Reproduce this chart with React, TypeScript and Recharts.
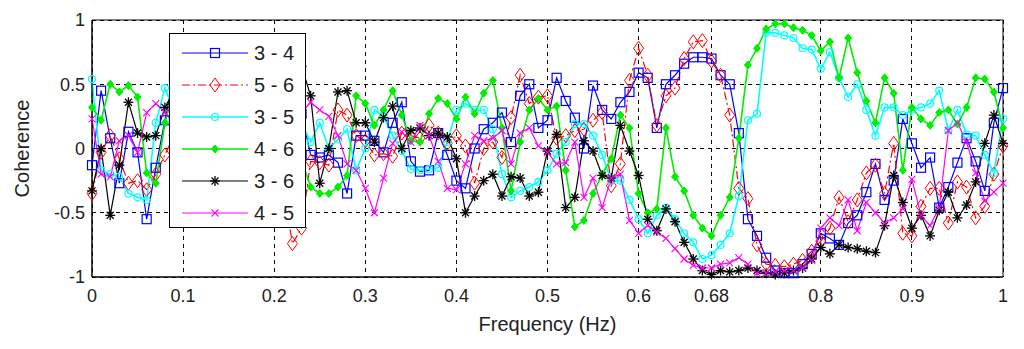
import { LineChart, Line, XAxis, YAxis, CartesianGrid, Legend, ReferenceArea } from "recharts"

const FONT = "'Liberation Sans', Arial, sans-serif"

const xTicks = [0, 0.1, 0.2, 0.3, 0.4, 0.5, 0.6, 0.68, 0.8, 0.9, 1]
const yTicks = [-1, -0.5, 0, 0.5, 1]

// coherence per frequency bin (0 .. 1 Hz, 0.01 step)
const coh34 = [
  -0.13, 0.45, 0.08, -0.27, 0.13, -0.03, -0.55, -0.15, 0.22, 0.55,
  0.3, 0.1, -0.2, 0.15, 0.35, 0.0, -0.25, 0.2, 0.4, 0.1,
  -0.1, 0.2, 0.02, 0.27, -0.05, -0.07, -0.05, -0.11, -0.35, 0.1,
  0.1, 0.06, -0.03, 0.2, 0.36, -0.1, -0.18, -0.17, 0.12, -0.05,
  -0.25, -0.31, 0.0, 0.15, 0.2, 0.28, 0.05, 0.41, 0.5, 0.16,
  0.22, 0.55, 0.37, 0.24, 0.0, 0.49, 0.3, 0.23, 0.36, 0.44,
  0.59, 0.55, 0.16, 0.5, 0.57, 0.66, 0.71, 0.71, 0.7, 0.57,
  0.5, 0.12, -0.55, -0.68, -0.85, -0.95, -0.97, -0.97, -0.9, -0.82,
  -0.66, -0.7, -0.75, -0.58, -0.52, -0.34, -0.12, -0.4, -0.25, 0.23,
  0.04, -0.15, -0.07, -0.46, -0.3, -0.11, 0.08, -0.1, -0.33, 0.2, 0.47,
]

const coh56 = [
  -0.35, -0.03, 0.1, -0.08, -0.27, -0.25, -0.32, -0.2, -0.05, 0.1,
  0.25, -0.1, 0.05, 0.3, 0.0, -0.2, 0.15, 0.3, 0.05, -0.15,
  0.1, -0.3, -0.74, -0.62, -0.1, -0.11, -0.13, 0.3, 0.26, 0.1,
  0.06, -0.05, -0.04, -0.06, 0.12, 0.1, 0.08, 0.18, 0.12, 0.04,
  0.1, 0.02, -0.27, 0.0, 0.05, -0.07, 0.24, 0.57, 0.35, 0.4,
  0.41, 0.08, 0.1, 0.14, 0.15, 0.22, 0.28, -0.29, -0.12, 0.53,
  0.78, 0.57, 0.18, 0.41, 0.47, 0.7, 0.83, 0.84, 0.68, 0.57,
  0.26, -0.31, -0.39, -0.75, -0.9, -0.91, -0.92, -0.9, -0.87, -0.8,
  -0.72, -0.62, -0.38, -0.57, -0.4, -0.19, -0.13, -0.35, 0.04, -0.66,
  -0.68, -0.45, -0.31, -0.31, -0.58, -0.26, -0.3, -0.54, -0.45, -0.2, 0.02,
]

const coh35 = [
  0.54, -0.17, -0.2, -0.22, -0.35, -0.38, -0.4, 0.2, 0.47, 0.3,
  0.1, -0.1, 0.05, 0.2, -0.15, 0.0, 0.25, 0.1, -0.2, 0.05,
  0.15, -0.1, 0.1, 0.2, 0.05, 0.2, 0.0, 0.07, 0.15, -0.17,
  0.0, 0.3, 0.25, 0.1, -0.02, -0.16, -0.17, -0.16, -0.15, 0.05,
  0.3, 0.35, 0.3, 0.3, 0.15, -0.2, -0.38, -0.33, -0.3, -0.26,
  -0.17, -0.04, 0.05, 0.19, 0.19, 0.1, -0.05, -0.25, -0.25, -0.4,
  -0.55, -0.66, -0.52, -0.46, -0.55, -0.66, -0.73, -0.86, -0.83, -0.75,
  -0.66, -0.37, 0.22, 0.27, 0.9, 0.9, 0.88, 0.86, 0.78, 0.77,
  0.62, 0.75, 0.55, 0.4, 0.5, 0.3, 0.1, 0.32, 0.32, 0.26,
  0.3, 0.32, 0.35, 0.45, 0.14, 0.3, 0.11, 0.1, -0.05, -0.19, 0.23,
]

const coh46 = [
  0.32, 0.22, 0.5, 0.44, 0.49, 0.4, -0.19, -0.27, 0.2, 0.45,
  0.3, 0.1, 0.35, 0.2, 0.0, 0.25, 0.4, 0.15, -0.05, 0.2,
  0.1, -0.1, 0.05, -0.09, -0.3, -0.35, -0.35, -0.3, -0.21, 0.41,
  0.35, 0.18, 0.3, 0.45, 0.26, 0.06, 0.05, 0.27, 0.39, 0.35,
  0.23, 0.4, 0.27, 0.43, 0.53, 0.16, -0.33, 0.05, 0.3, 0.39,
  0.3, 0.33, -0.17, -0.61, -0.56, -0.35, -0.2, -0.08, 0.26, 0.16,
  -0.35, -0.5, -0.47, 0.16, -0.22, -0.33, -0.52, -0.62, -0.68, -0.52,
  -0.38, 0.08, 0.65, 0.78, 0.93, 0.97, 0.97, 0.94, 0.92, 0.88,
  0.76, 0.83, 0.55, 0.86, 0.59, 0.37, 0.2, 0.55, 0.43, -0.17,
  0.32, 0.23, 0.18, 0.28, 0.3, 0.19, 0.32, 0.55, 0.54, 0.44, 0.16,
]

const coh36 = [
  -0.33, 0.0, -0.52, -0.13, 0.36, 0.12, 0.09, 0.1, 0.32, 0.45,
  0.2, 0.05, -0.15, 0.1, 0.3, 0.0, -0.2, 0.15, 0.25, 0.05,
  0.3, 0.5, 0.3, 0.64, 0.41, -0.27, 0.0, 0.44, 0.45, 0.2,
  0.2, 0.05, 0.24, 0.33, 0.0, 0.14, 0.16, 0.1, 0.12, 0.09,
  -0.08, -0.5, -0.37, -0.25, -0.2, -0.37, -0.22, -0.23, -0.37, -0.34,
  -0.02, 0.11, -0.46, -0.38, 0.06, -0.02, -0.21, -0.23, 0.18, -0.02,
  -0.21, -0.55, -0.64, -0.47, -0.57, -0.73, -0.86, -0.95, -0.98, -0.95,
  -0.96, -0.95, -0.93, -0.95, -0.97, -0.98, -0.97, -0.95, -0.93, -0.86,
  -0.77, -0.82, -0.75, -0.77, -0.78, -0.8, -0.81, -0.6, -0.21, -0.42,
  -0.62, -0.52, -0.68, -0.48, -0.34, -0.54, -0.44, -0.26, 0.04, 0.26, 0.04,
]

const coh45 = [
  0.23, -0.2, -0.22, 0.06, 0.1, -0.03, 0.28, 0.35, 0.28, 0.2,
  0.35, 0.05, -0.1, 0.15, 0.3, 0.1, -0.05, 0.2, 0.1, 0.0,
  0.25, 0.15, 0.2, 0.28, 0.36, 0.3, 0.25, 0.1, -0.12, -0.17,
  -0.31, -0.5, -0.23, 0.04, 0.13, 0.05, 0.18, 0.1, -0.1, -0.31,
  -0.32, -0.12, 0.1, 0.06, 0.08, 0.14, -0.12, 0.12, 0.16, 0.02,
  -0.03, -0.12, -0.11, 0.05, -0.38, -0.23, -0.46, -0.23, -0.2, -0.56,
  -0.66, -0.6, -0.65, -0.7, -0.78, -0.86, -0.91, -0.93, -0.93, -0.9,
  -0.89, -0.85, -0.9, -0.97, -0.97, -0.96, -0.95, -0.95, -0.93, -0.87,
  -0.62, -0.54, -0.6, -0.4, -0.64, -0.42, -0.5, -0.58, -0.54, -0.47,
  -0.24, -0.52, -0.6, -0.46, 0.14, 0.2, 0.05, -0.19, -0.41, -0.34, -0.27,
]

type MarkerKind = "square" | "diamond" | "circle" | "dot" | "star" | "cross"

interface SeriesDef {
  key: string
  name: string
  color: string
  width: number
  dash?: string
  marker: MarkerKind
}

const series: SeriesDef[] = [
  { key: "c34", name: "3 - 4", color: "#0000ff", width: 1.2, marker: "square" },
  { key: "c56", name: "5 - 6", color: "#ff0000", width: 1.2, dash: "8 3 2 3", marker: "diamond" },
  { key: "c35", name: "3 - 5", color: "#00ffff", width: 1.6, marker: "circle" },
  { key: "c46", name: "4 - 6", color: "#00ee00", width: 1.6, marker: "dot" },
  { key: "c36", name: "3 - 6", color: "#000000", width: 1.2, marker: "star" },
  { key: "c45", name: "4 - 5", color: "#ff00ff", width: 1.2, marker: "cross" },
]

const data = coh34.map((_, i) => ({
  f: i / 100,
  c34: coh34[i],
  c56: coh56[i],
  c35: coh35[i],
  c46: coh46[i],
  c36: coh36[i],
  c45: coh45[i],
}))

function Marker({ kind, cx, cy, color }: { kind: MarkerKind; cx: number; cy: number; color: string }) {
  if (cx == null || cy == null) return null
  switch (kind) {
    case "square":
      return <rect x={cx - 4.5} y={cy - 4.5} width={9} height={9} fill="none" stroke={color} strokeWidth={1.2} />
    case "diamond":
      return (
        <polygon
          points={`${cx},${cy - 7} ${cx + 5},${cy} ${cx},${cy + 7} ${cx - 5},${cy}`}
          fill="none"
          stroke={color}
          strokeWidth={1}
        />
      )
    case "circle":
      return <circle cx={cx} cy={cy} r={3.5} fill="none" stroke={color} strokeWidth={1.2} />
    case "dot":
      return (
        <polygon
          points={`${cx},${cy - 4} ${cx + 3.5},${cy} ${cx},${cy + 4} ${cx - 3.5},${cy}`}
          fill={color}
          stroke={color}
        />
      )
    case "star":
      return (
        <g stroke={color} strokeWidth={1.3}>
          <line x1={cx - 5} y1={cy} x2={cx + 5} y2={cy} />
          <line x1={cx} y1={cy - 5} x2={cx} y2={cy + 5} />
          <line x1={cx - 3.5} y1={cy - 3.5} x2={cx + 3.5} y2={cy + 3.5} />
          <line x1={cx - 3.5} y1={cy + 3.5} x2={cx + 3.5} y2={cy - 3.5} />
        </g>
      )
    case "cross":
      return (
        <g stroke={color} strokeWidth={1.1}>
          <line x1={cx - 3.5} y1={cy - 3.5} x2={cx + 3.5} y2={cy + 3.5} />
          <line x1={cx - 3.5} y1={cy + 3.5} x2={cx + 3.5} y2={cy - 3.5} />
        </g>
      )
  }
  return null
}

function LegendBox() {
  return (
    <div
      style={{
        width: 137,
        height: 195,
        border: "1px solid #000",
        background: "#fff",
        boxSizing: "border-box",
      }}
    >
      <svg width={135} height={193} style={{ display: "block" }}>
        {series.map((s, i) => {
          const y = 19 + i * 32
          return (
            <g key={s.key}>
              <line x1={12} x2={78} y1={y} y2={y} stroke={s.color} strokeWidth={s.width} strokeDasharray={s.dash} />
              <Marker kind={s.marker} cx={45} cy={y} color={s.color} />
              <text x={84} y={y} dominantBaseline="central" fontSize={20} fontFamily={FONT} fill="#222">
                {s.name}
              </text>
            </g>
          )
        })}
      </svg>
    </div>
  )
}

export default function App() {
  return (
    <div style={{ position: "absolute", left: 0, top: 0, width: 1024, height: 349, background: "#fff" }}>
      <LineChart width={1024} height={349} data={data} margin={{ top: 20, right: 21, bottom: 0, left: 0 }}>
        <CartesianGrid stroke="#000" strokeDasharray="4 4" strokeWidth={1} shapeRendering="crispEdges" />
        <XAxis
          dataKey="f"
          type="number"
          domain={[0, 1]}
          ticks={xTicks}
          interval={0}
          tickLine={false}
          tickSize={0}
          tickMargin={12}
          height={72}
          axisLine={{ stroke: "#000" }}
          tick={{ fontSize: 18, fill: "#222", fontFamily: FONT }}
          tickFormatter={(v: number) => String(v)}
          label={({ viewBox }: any) => (
            <text
              x={viewBox.x + viewBox.width / 2}
              y={viewBox.y + 47}
              textAnchor="middle"
              dominantBaseline="central"
              fontSize={20}
              fontFamily={FONT}
              fill="#222"
            >
              Frequency (Hz)
            </text>
          )}
        />
        <YAxis
          type="number"
          domain={[-1, 1]}
          ticks={yTicks}
          interval={0}
          tickLine={false}
          tickSize={0}
          tickMargin={7}
          width={92}
          axisLine={{ stroke: "#000" }}
          tick={{ fontSize: 18, fill: "#222", fontFamily: FONT }}
          tickFormatter={(v: number) => String(v)}
          label={({ viewBox }: any) => {
            const cx = viewBox.x + 22
            const cy = viewBox.y + viewBox.height / 2
            return (
              <text
                x={cx}
                y={cy}
                transform={`rotate(-90 ${cx} ${cy})`}
                textAnchor="middle"
                dominantBaseline="central"
                fontSize={20}
                fontFamily={FONT}
                fill="#222"
              >
                Coherence
              </text>
            )
          }}
        />
        <ReferenceArea x1={0} x2={1} y1={-1} y2={1} fill="none" stroke="#000" strokeWidth={1} />
        {series.map((s) => (
          <Line
            key={s.key}
            type="linear"
            dataKey={s.key}
            name={s.name}
            stroke={s.color}
            strokeWidth={s.width}
            strokeDasharray={s.dash}
            dot={(p: any) => <Marker key={`${s.key}-${p.index}`} kind={s.marker} cx={p.cx} cy={p.cy} color={s.color} />}
            activeDot={false}
            isAnimationActive={false}
          />
        ))}
        <Legend
          layout="vertical"
          align="center"
          verticalAlign="middle"
          content={() => <LegendBox />}
          wrapperStyle={{ left: 169, top: 33, width: 137, height: 195 }}
        />
      </LineChart>
    </div>
  )
}
